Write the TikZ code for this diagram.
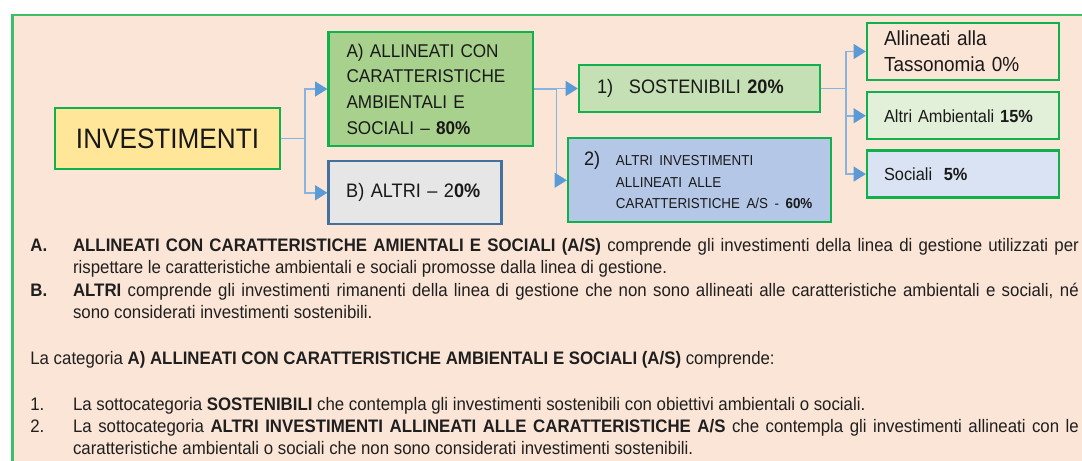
\documentclass[tikz,border=0pt]{standalone}
\usepackage{fontspec}
\setmainfont{Liberation Sans}[FakeStretch=0.93]
\usetikzlibrary{arrows.meta,positioning}
\definecolor{peach}{HTML}{FBE5D6}
\definecolor{panelgreen}{HTML}{3CBF67}
\definecolor{boxgreen}{HTML}{10B04C}
\definecolor{boxblue}{HTML}{41719C}
\definecolor{linkblue}{HTML}{86B3E0}
\definecolor{arrowblue}{HTML}{5B9BD5}
\definecolor{fillyellow}{HTML}{FFE699}
\definecolor{fillgreen}{HTML}{A9D18E}
\definecolor{fillgray}{HTML}{E7E6E6}
\definecolor{filllgreen}{HTML}{C5E0B4}
\definecolor{fillblue}{HTML}{B4C7E7}
\definecolor{fillpalegreen}{HTML}{E2F0D9}
\definecolor{fillpaleblue}{HTML}{DAE3F3}
\tikzset{
  box/.style={draw=boxgreen, line width=1.3pt, inner ysep=0pt, align=left, text=black!90},
  link/.style={draw=linkblue, line width=0.9pt},
  arrowline/.style={link, -{Triangle[length=7pt,width=8.5pt,color=arrowblue]}},
  label/.style={anchor=base west, inner sep=0pt, text=black!88, font=\fontsize{10.3}{12.85}\selectfont},
  para/.style={label, text width=20.12cm, align=justify},
}
\begin{document}
\begin{tikzpicture}[x=0.02cm, y=-0.02cm]
\useasboundingbox (0,0) rectangle (1082,460);
\fill[white] (0,0) rectangle (1082,460);
\filldraw[fill=peach, draw=panelgreen, line width=1.2pt] (12.5,15) rectangle (1120,500);

\node (inv) [box, fill=fillyellow, minimum width=4.5cm, minimum height=1.22cm, align=center, font=\fontsize{16}{19}\selectfont] at (167.5,138.5) {INVESTIMENTI};
\node (all) [box, fill=fillgreen, text width=3.37cm, inner xsep=0.36cm, minimum height=2.28cm, font=\fontsize{10.5}{14.6}\selectfont] at (430.75,89) {A) ALLINEATI CON\\CARATTERISTICHE\\AMBIENTALI E\\SOCIALI – \textbf{80\%}};
\node (altri) [box, draw=boxblue, fill=fillgray, text width=2.75cm, inner xsep=0.354cm, minimum height=1.26cm, font=\fontsize{11.1}{13}\selectfont, below=0.26cm of all.south west, anchor=north west] {B) ALTRI – 2\textbf{0\%}};
\node (sos) [box, fill=filllgreen, text width=4.1cm, inner xsep=0.36cm, minimum height=0.94cm, font=\fontsize{11.1}{13}\selectfont] at (699.5,88.5) {1)\hspace{9pt}SOSTENIBILI \textbf{20\%}};
\node (altinv) [box, fill=fillblue, text width=4.62cm, inner xsep=0.32cm, minimum height=1.68cm, font=\fontsize{11.1}{13}\selectfont, below=0.48cm of sos] {2)\hspace{9pt}\parbox[t]{3.95cm}{\raggedright\fontsize{8.2}{12.2}\selectfont ALTRI INVESTIMENTI\\ALLINEATI ALLE\\\mbox{CARATTERISTICHE A/S - \textbf{60\%}}}};
\node (tax) [box, fill=peach, text width=3.16cm, inner xsep=0.34cm, minimum height=1.14cm, font=\fontsize{11.6}{14.8}\selectfont] at (963,51.5) {Allineati alla\\Tassonomia 0\%};
\node (amb) [box, fill=fillpalegreen, text width=3.16cm, inner xsep=0.34cm, minimum height=0.94cm, font=\fontsize{10}{12}\selectfont, below=0.2cm of tax] {Altri Ambientali \textbf{15\%}};
\node (soc) [box, fill=fillpaleblue, text width=3.16cm, inner xsep=0.34cm, minimum height=0.94cm, font=\fontsize{10}{12}\selectfont, below=0.18cm of amb] {Sociali\ \ \textbf{5\%}};

\coordinate (j1) at ([xshift=0.48cm]inv.east);
\coordinate (j2) at ([xshift=0.45cm]all.east);
\coordinate (j3) at ([xshift=0.5cm]sos.east);
\draw[link] (inv) -- (j1);
\draw[arrowline] (j1) |- (all);
\draw[arrowline] (j1) |- (altri);
\draw[link] (all) -- (j2);
\draw[arrowline] (j2) |- (sos);
\draw[arrowline] (j2) |- (altinv);
\draw[link] (sos) -- (j3);
\draw[arrowline] (j3) |- (tax);
\draw[arrowline] (j3) |- (amb);
\draw[arrowline] (j3) |- (soc);

\node (la) [label] at (30,251) {\textbf{A.}};
\node (ta) [para] at (72.7,251) {\textbf{ALLINEATI CON CARATTERISTICHE AMIENTALI E SOCIALI (A/S)} comprende gli investimenti della linea di gestione utilizzati per\linebreak rispettare le caratteristiche ambientali e sociali promosse dalla linea di gestione.};
\node (lb) [label] at (30,296) {\textbf{B.}};
\node (tb) [para] at (72.7,296) {\textbf{ALTRI} comprende gli investimenti rimanenti della linea di gestione che non sono allineati alle caratteristiche ambientali e sociali, né\linebreak sono considerati investimenti sostenibili.};
\node (cat) [label] at (30,364) {La categoria \textbf{A) ALLINEATI CON CARATTERISTICHE AMBIENTALI E SOCIALI (A/S)} comprende:};
\node (l1) [label] at (30,410) {1.};
\node (t1) [para] at (72.7,410) {La sottocategoria \textbf{SOSTENIBILI} che contempla gli investimenti sostenibili con obiettivi ambientali o sociali.};
\node (l2) [label] at (30,432) {2.};
\node (t2) [para] at (72.7,432) {La sottocategoria \textbf{ALTRI INVESTIMENTI ALLINEATI ALLE CARATTERISTICHE A/S} che contempla gli investimenti allineati con le\linebreak caratteristiche ambientali o sociali che non sono considerati investimenti sostenibili.};
\end{tikzpicture}
\end{document}
